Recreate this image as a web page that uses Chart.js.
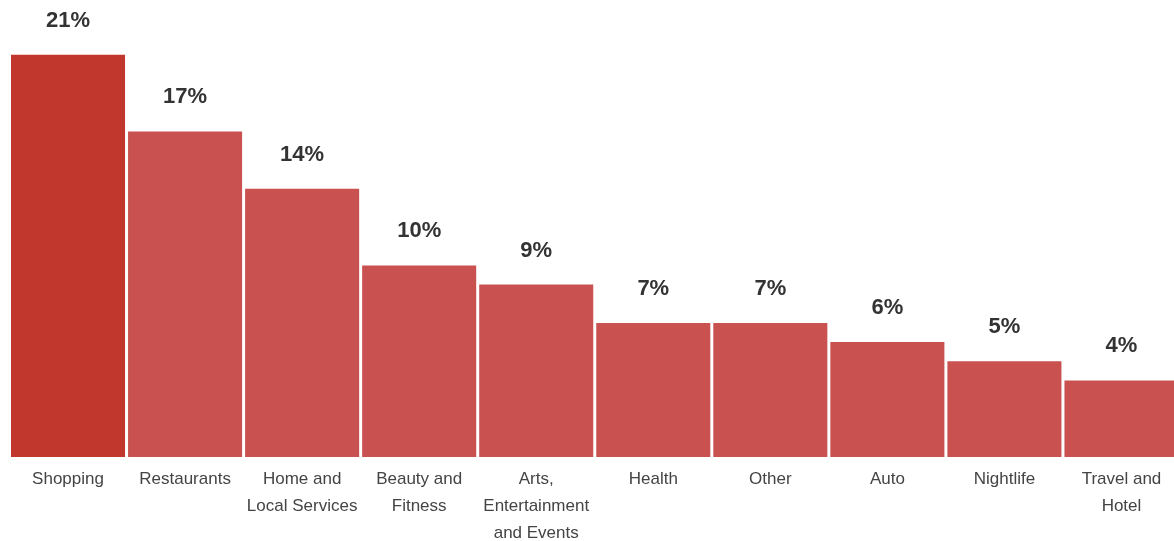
<!DOCTYPE html>
<html>
<head>
<meta charset="utf-8">
<script src="https://cdn.jsdelivr.net/npm/chart.js@4"></script>
<style>
  html, body { margin: 0; padding: 0; background: #fff; overflow: hidden; }
  #wrap { position: relative; width: 1180px; height: 541px; }
</style>
</head>
<body>
<div id="wrap"><canvas id="chart"></canvas></div>
<script>
// Categories (multi-line labels as arrays)
const categories = [
    'Shopping',
    'Restaurants',
    ['Home and', 'Local Services'],
    ['Beauty and', 'Fitness'],
    ['Arts,', 'Entertainment', 'and Events'],
    'Health',
    'Other',
    'Auto',
    'Nightlife',
    ['Travel and', 'Hotel']
];

// Share of each category, in percent
const shares = [21, 17, 14, 10, 9, 7, 7, 6, 5, 4];

// First bar is highlighted
const barColors = shares.map((v, i) => i === 0 ? '#c1372d' : '#c95150');

// Draws the "NN%" text above every bar
const valueLabels = {
    id: 'valueLabels',
    afterDatasetsDraw(chart) {
        const ctx = chart.ctx;
        const meta = chart.getDatasetMeta(0);
        ctx.save();
        ctx.font = 'bold 22px "Liberation Sans", Arial, sans-serif';
        ctx.fillStyle = '#333';
        ctx.textAlign = 'center';
        ctx.textBaseline = 'alphabetic';
        meta.data.forEach((bar, i) => {
            ctx.fillText(shares[i] + '%', bar.x, bar.y - 28);
        });
        ctx.restore();
    }
};

new Chart(document.getElementById('chart'), {
    type: 'bar',
    data: {
        labels: categories,
        datasets: [{
            data: shares,
            backgroundColor: barColors,
            borderWidth: 0,
            barPercentage: 114 / 117,
            categoryPercentage: 1
        }]
    },
    options: {
        responsive: true,
        maintainAspectRatio: false,
        animation: false,
        layout: { padding: { left: 9.5, right: 0, top: 0, bottom: 0 } },
        plugins: {
            legend: { display: false },
            tooltip: { enabled: false }
        },
        scales: {
            x: {
                grid: { display: false, drawTicks: false },
                border: { display: false },
                ticks: {
                    color: '#444',
                    padding: 9,
                    maxRotation: 0,
                    autoSkip: false,
                    font: { family: '"Liberation Sans", Arial, sans-serif', size: 17, lineHeight: '27px' }
                },
                afterFit(scale) { scale.height = 84; }
            },
            y: {
                display: false,
                min: 0,
                max: 23.86
            }
        }
    },
    plugins: [valueLabels]
});
</script>
</body>
</html>
